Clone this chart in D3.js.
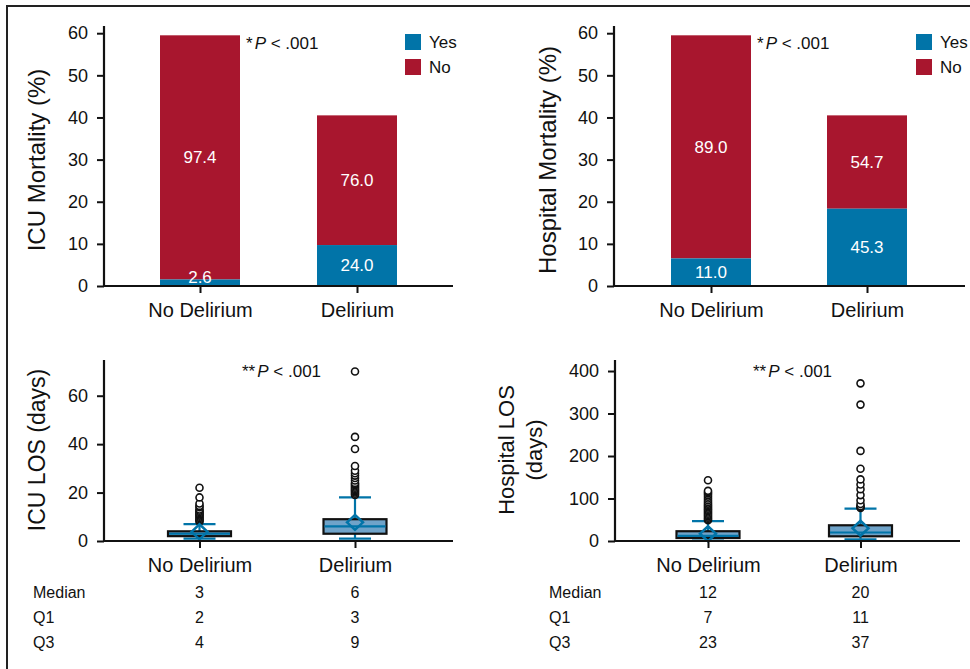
<!DOCTYPE html>
<html>
<head>
<meta charset="utf-8">
<script src="https://cdn.jsdelivr.net/npm/d3@7"></script>
<style>
body { margin: 0; background: #fff; }
text { font-family: "Liberation Sans", Arial, sans-serif; fill: #111; }
</style>
</head>
<body>
<script>
var groups = ["No Delirium", "Delirium"];

// top panels: bar height = share of patients, split by died yes / no (%)
var groupShare = [59.5, 40.5];
var icuDeathYes = [2.6, 24.0];
var hospDeathYes = [11.0, 45.3];
var mortTicks = [0, 10, 20, 30, 40, 50, 60];

// bottom panels: length of stay (days)
var icuMedian = [3, 6], icuQ1 = [2, 3], icuQ3 = [4, 9];
var icuLow = [1, 1], icuHigh = [7, 18], icuMean = [3.8, 7.7];
var icuOutliers = [
  [8, 8.5, 9, 9.5, 10, 10.5, 11, 11.5, 12, 12.5, 13, 14, 14.5, 15.5, 18, 22],
  [19, 19.5, 20, 20.5, 21, 21.5, 22, 22.5, 23, 23.5, 24, 25, 26, 27, 28, 29, 31, 38, 43, 70]
];
var icuTicks = [0, 20, 40, 60];

var hospMedian = [12, 20], hospQ1 = [7, 11], hospQ3 = [23, 37];
var hospLow = [1, 4], hospHigh = [47, 76], hospMean = [17, 30];
var hospOutliers = [
  [49, 52, 55, 58, 61, 64, 67, 70, 73, 76, 79, 82, 85, 88, 92, 96, 100, 104, 108, 112, 115, 118, 143],
  [78, 80, 82, 87, 96, 108, 122, 133, 145, 170, 212, 321, 371]
];
var hospTicks = [0, 100, 200, 300, 400];

var tableRows = ["Median", "Q1", "Q3"];

var blue = "#0174a8", red = "#a8162e", boxFill = "#6fa3c9";

var width = 970,
    height = 669;

var svg = d3.select("body").append("svg")
    .attr("width", width)
    .attr("height", height);

// outer frame (top and left edges)
svg.append("path")
    .attr("d", "M7,669V6H970")
    .attr("fill", "none")
    .attr("stroke", "#222")
    .attr("stroke-width", 2);

function styleAxis(g, fs) {
  g.attr("font-size", fs).attr("font-family", "Liberation Sans, Arial, sans-serif");
  g.selectAll("line").attr("stroke", "#111").attr("stroke-width", 2);
  g.selectAll("text").attr("fill", "#111");
}

function drawAxes(o, x, y, ticks) {
  var yg = svg.append("g")
      .attr("transform", "translate(" + o.x0 + ",0)")
      .call(d3.axisLeft(y).tickValues(ticks).tickSize(7).tickPadding(9).tickSizeOuter(0));
  yg.select(".domain").remove();
  styleAxis(yg, 18);

  var xg = svg.append("g")
      .attr("transform", "translate(0," + o.base + ")")
      .call(d3.axisBottom(x).tickSize(7).tickPadding(10).tickSizeOuter(0));
  xg.select(".domain").remove();
  styleAxis(xg, 20);

  svg.append("path")
      .attr("d", "M" + o.x0 + "," + o.top + "V" + o.base + "H" + o.x1)
      .attr("fill", "none")
      .attr("stroke", "#111")
      .attr("stroke-width", 2.2);
}

function yTitle(lines, tx, ty, fs) {
  var t = svg.append("text")
      .attr("transform", "translate(" + tx + "," + ty + ") rotate(-90)")
      .attr("text-anchor", "middle")
      .attr("font-size", fs);
  lines.forEach(function(s, i) {
    t.append("tspan").attr("x", 0).attr("y", i * 28).text(s);
  });
}

function pText(stars, px, py) {
  var t = svg.append("text").attr("x", px).attr("y", py).attr("font-size", 17);
  t.append("tspan").text(stars);
  t.append("tspan").attr("dx", 2).attr("font-style", "italic").text("P");
  t.append("tspan").text(" < .001");
}

//1. STACKED BAR PANELS
function barPanel(o) {
  var y = d3.scaleLinear().domain([0, 60]).range([286, 33.2]);
  var x = d3.scalePoint().domain(groups).range([o.c0, o.c1]);
  var bw = 80;

  var rows = groups.map(function(g, i) {
    var yes = groupShare[i] * o.yes[i] / 100;
    return {g: g, total: groupShare[i], yes: yes, yesPct: o.yes[i], noPct: 100 - o.yes[i]};
  });

  var bar = svg.selectAll(null).data(rows).enter().append("g");

  bar.append("rect")
      .attr("x", function(d) { return x(d.g) - bw / 2; })
      .attr("width", bw)
      .attr("y", function(d) { return y(d.total); })
      .attr("height", function(d) { return y(d.yes) - y(d.total); })
      .attr("fill", red);

  bar.append("rect")
      .attr("x", function(d) { return x(d.g) - bw / 2; })
      .attr("width", bw)
      .attr("y", function(d) { return y(d.yes); })
      .attr("height", function(d) { return y(0) - y(d.yes); })
      .attr("fill", blue);

  bar.append("text")
      .attr("x", function(d) { return x(d.g); })
      .attr("y", function(d) { return (y(d.total) + y(d.yes)) / 2; })
      .attr("dy", "0.35em")
      .attr("text-anchor", "middle")
      .attr("font-size", 17)
      .style("fill", "#fff")
      .text(function(d) { return d.noPct.toFixed(1); });

  bar.append("text")
      .attr("x", function(d) { return x(d.g); })
      .attr("y", function(d) { return Math.min((y(d.yes) + y(0)) / 2, y(0) - 9); })
      .attr("dy", "0.35em")
      .attr("text-anchor", "middle")
      .attr("font-size", 17)
      .style("fill", "#fff")
      .text(function(d) { return d.yesPct.toFixed(1); });

  drawAxes({x0: o.x0, x1: o.x1, top: 26, base: 286}, x, y, mortTicks);
  yTitle([o.title], o.titleX, 160, 24);
  pText("*", o.pX, 49);

  // legend
  var leg = svg.selectAll(null).data([["Yes", blue], ["No", red]]).enter().append("g")
      .attr("transform", function(d, i) { return "translate(" + o.legX + "," + (34 + i * 25) + ")"; });
  leg.append("rect").attr("width", 16).attr("height", 16).attr("fill", function(d) { return d[1]; });
  leg.append("text").attr("x", 24).attr("y", 13.5).attr("font-size", 17).text(function(d) { return d[0]; });
}

barPanel({yes: icuDeathYes, x0: 104, x1: 453, c0: 200, c1: 357,
          title: "ICU Mortality (%)", titleX: 45, pX: 246, legX: 405});
barPanel({yes: hospDeathYes, x0: 614, x1: 965, c0: 711, c1: 867,
          title: "Hospital Mortality (%)", titleX: 556, pX: 757, legX: 916});

//2. BOX PLOT PANELS
function boxPanel(o) {
  var y = d3.scaleLinear().domain([0, o.yMax]).range([541, o.rTop]);
  var x = d3.scalePoint().domain(groups).range([o.c0, o.c1]);
  var bw = 63, cw = 32;

  var stats = groups.map(function(g, i) {
    return {g: g, med: o.med[i], q1: o.q1[i], q3: o.q3[i], lo: o.lo[i], hi: o.hi[i],
            mean: o.mean[i], out: o.out[i]};
  });

  var box = svg.selectAll(null).data(stats).enter().append("g");

  // whiskers
  box.append("path")
      .attr("d", function(d) {
        var cx = x(d.g);
        return "M" + cx + "," + y(d.q3) + "V" + y(d.hi) +
               "M" + (cx - cw / 2) + "," + y(d.hi) + "H" + (cx + cw / 2) +
               "M" + cx + "," + y(d.q1) + "V" + y(d.lo) +
               "M" + (cx - cw / 2) + "," + y(d.lo) + "H" + (cx + cw / 2);
      })
      .attr("fill", "none")
      .attr("stroke", blue)
      .attr("stroke-width", 2.2);

  box.append("rect")
      .attr("x", function(d) { return x(d.g) - bw / 2; })
      .attr("width", bw)
      .attr("y", function(d) { return y(d.q3); })
      .attr("height", function(d) { return y(d.q1) - y(d.q3); })
      .attr("fill", boxFill)
      .attr("stroke", "#111")
      .attr("stroke-width", 2.2);

  box.append("line")
      .attr("x1", function(d) { return x(d.g) - bw / 2 + 1; })
      .attr("x2", function(d) { return x(d.g) + bw / 2 - 1; })
      .attr("y1", function(d) { return y(d.med); })
      .attr("y2", function(d) { return y(d.med); })
      .attr("stroke", blue)
      .attr("stroke-width", 2.2);

  box.selectAll("circle")
      .data(function(d) { return d.out.map(function(v) { return {g: d.g, v: v}; }); })
      .enter().append("circle")
      .attr("cx", function(d) { return x(d.g); })
      .attr("cy", function(d) { return y(d.v); })
      .attr("r", 3.5)
      .attr("fill", "#fff")
      .attr("stroke", "#111")
      .attr("stroke-width", 1.6);

  box.append("path")
      .attr("d", function(d) {
        var cx = x(d.g), cy = y(d.mean);
        return "M" + (cx - 8) + "," + cy + "L" + cx + "," + (cy - 7.5) +
               "L" + (cx + 8) + "," + cy + "L" + cx + "," + (cy + 7.5) + "Z";
      })
      .attr("fill", "none")
      .attr("stroke", blue)
      .attr("stroke-width", 2.5);

  drawAxes({x0: o.x0, x1: o.x1, top: 360, base: 541}, x, y, o.ticks);
  yTitle(o.title, o.titleX, 450, o.titleSize);
  pText("**", o.pX, 377);

  // summary table under the panel
  var rowVals = [o.med, o.q1, o.q3];
  var tr = svg.selectAll(null).data(tableRows).enter().append("g")
      .attr("transform", function(d, i) { return "translate(0," + (598 + i * 25) + ")"; });
  tr.append("text").attr("x", o.tabX).attr("font-size", 16).text(function(d) { return d; });
  tr.selectAll(null)
      .data(function(d, i) { return rowVals[i]; })
      .enter().append("text")
      .attr("x", function(v, j) { return x(groups[j]); })
      .attr("text-anchor", "middle")
      .attr("font-size", 16)
      .text(function(v) { return v; });
}

boxPanel({med: icuMedian, q1: icuQ1, q3: icuQ3, lo: icuLow, hi: icuHigh, mean: icuMean,
          out: icuOutliers, ticks: icuTicks, yMax: 75, rTop: 359.4,
          x0: 104, x1: 453, c0: 199.5, c1: 355,
          title: ["ICU LOS (days)"], titleX: 45, titleSize: 23, pX: 242, tabX: 33});
boxPanel({med: hospMedian, q1: hospQ1, q3: hospQ3, lo: hospLow, hi: hospHigh, mean: hospMean,
          out: hospOutliers, ticks: hospTicks, yMax: 425, rTop: 360.4,
          x0: 615, x1: 960, c0: 708, c1: 860.5,
          title: ["Hospital LOS", "(days)"], titleX: 514, titleSize: 22, pX: 753, tabX: 549});
</script>
</body>
</html>
